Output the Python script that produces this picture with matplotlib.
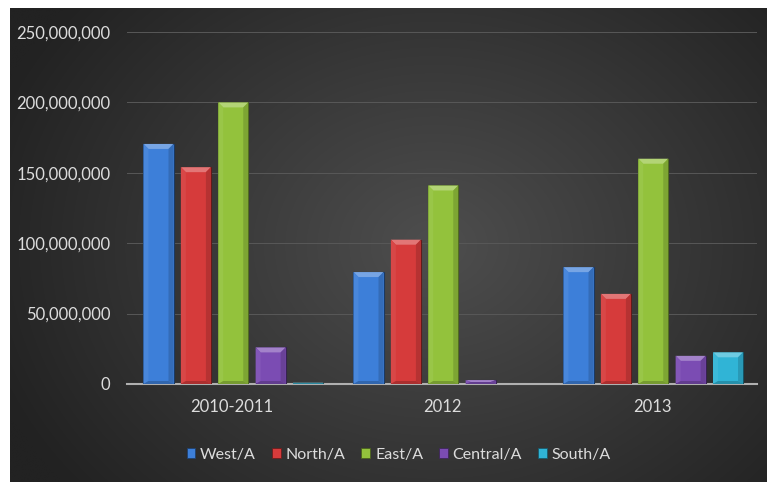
import numpy as np
import matplotlib
matplotlib.use("Agg")
import matplotlib.pyplot as plt
from matplotlib.patches import Polygon, Rectangle
from matplotlib.ticker import FuncFormatter
from matplotlib.colors import to_rgb

plt.rcParams['font.family'] = ['Lato', 'DejaVu Sans']

categories = ["2010-2011", "2012", "2013"]
series_names = ["West/A", "North/A", "East/A", "Central/A", "South/A"]
west = [170_500_000, 79_500_000, 83_000_000]
north = [154_000_000, 102_500_000, 64_000_000]
east = [200_000_000, 141_000_000, 160_000_000]
central = [26_000_000, 2_800_000, 20_000_000]
south = [900_000, 0, 22_500_000]
series_values = [west, north, east, central, south]
colors = ["#3d7fd9", "#d63b3b", "#93c23c", "#7b4cb3", "#30b4d6"]
y_ticks = [0, 50_000_000, 100_000_000, 150_000_000, 200_000_000, 250_000_000]

W, H = 767, 482
fig = plt.figure(figsize=(W / 100, H / 100), dpi=100)
fig.patch.set_facecolor("white")

# dark radial-gradient backdrop (leaves a thin white margin on left and top)
bg = fig.add_axes([10 / W, 0, (W - 10) / W, (H - 8) / H])
bg.set_axis_off()
yy, xx = np.mgrid[0:300, 0:480]
cx, cy = 0.56 * 480, 0.50 * 300
r = np.sqrt(((xx - cx) / 480) ** 2 + ((yy - cy) / 300) ** 2 * 0.6)
r = np.clip(r / 0.62, 0, 1)
inner = np.array([0x4e, 0x4e, 0x4e]) / 255
outer = np.array([0x22, 0x22, 0x22]) / 255
img = inner[None, None, :] * (1 - r[..., None]) + outer[None, None, :] * r[..., None]
bg.imshow(img, aspect="auto", extent=[0, 1, 0, 1], interpolation="bicubic")
bg.set_xlim(0, 1)
bg.set_ylim(0, 1)

ax = fig.add_axes([127 / W, 98 / H, 630 / W, 352 / H])
ax.patch.set_alpha(0)
ax.set_xlim(-0.5, len(categories) - 0.5)
ax.set_ylim(0, 250_000_000)

# pixel -> data conversions for the bevel geometry
px_x = 3.0 / 630
px_y = 250_000_000 / 352


def shade(c, f):
    c = np.array(to_rgb(c))
    if f >= 0:
        return tuple(c + (1 - c) * f)
    return tuple(c * (1 + f))


slot = 0.178
bar_w = 0.143
x = np.arange(len(categories))
for i, (vals, col) in enumerate(zip(series_values, colors)):
    offs = (i - 2) * slot + 0.006
    for xi, v in zip(x, vals):
        if v <= 0:
            continue
        x0 = xi + offs - bar_w / 2
        x1 = xi + offs + bar_w / 2
        ax.add_patch(Rectangle((x0, 0), bar_w, v, facecolor=col,
                               edgecolor=shade(col, -0.55), linewidth=0.8, zorder=6))
        b = min(5 * px_y, v / 2)
        bx = 5 * px_x if v > 2 * px_y else 0.4 * px_x
        lo = min(3 * px_y, v - b)
        # top cap
        ax.add_patch(Polygon([(x0, v), (x1, v), (x1 - bx, v - b), (x0 + bx, v - b)],
                             closed=True, facecolor=shade(col, 0.3), edgecolor="none", zorder=7))
        # left highlight strip and right shadow strip
        ax.add_patch(Polygon([(x0, v), (x0 + bx, v - b), (x0 + bx, lo), (x0, 0)],
                             closed=True, facecolor=shade(col, 0.06), edgecolor="none", zorder=7))
        ax.add_patch(Polygon([(x1, v), (x1 - bx, v - b), (x1 - bx, lo), (x1, 0)],
                             closed=True, facecolor=shade(col, -0.15), edgecolor="none", zorder=7))
        # bottom shadow
        ax.add_patch(Polygon([(x0, 0), (x1, 0), (x1 - bx, lo), (x0 + bx, lo)],
                             closed=True, facecolor=shade(col, -0.2), edgecolor="none", zorder=7))

ax.set_yticks(y_ticks)
ax.yaxis.set_major_formatter(FuncFormatter(lambda v, p: f"{int(v):,}"))
ax.set_xticks(x)
ax.set_xticklabels(categories)
ax.grid(axis="y", color="#585858", linewidth=0.7, zorder=0)
ax.set_axisbelow(True)
for s in ["top", "right", "left"]:
    ax.spines[s].set_visible(False)
ax.spines["bottom"].set_color("#b0b0b0")
ax.spines["bottom"].set_linewidth(1.5)
ax.spines["bottom"].set_zorder(5)
ax.tick_params(axis="y", length=0, pad=12, labelsize=12, labelcolor="#dcdcdc")
ax.tick_params(axis="x", length=0, pad=11, labelsize=12, labelcolor="#dcdcdc")

handles = [Rectangle((0, 0), 1, 1, facecolor=c, edgecolor=shade(c, -0.5), linewidth=0.6)
           for c in colors]
leg = fig.legend(handles, series_names, loc="center", bbox_to_anchor=(0.52, 1 - 455 / H),
                 ncol=5, frameon=False, fontsize=11.5, labelcolor="#dcdcdc",
                 handlelength=0.55, handleheight=0.6, handletextpad=0.3, columnspacing=1.0)

fig.savefig("out.png", dpi=100)
